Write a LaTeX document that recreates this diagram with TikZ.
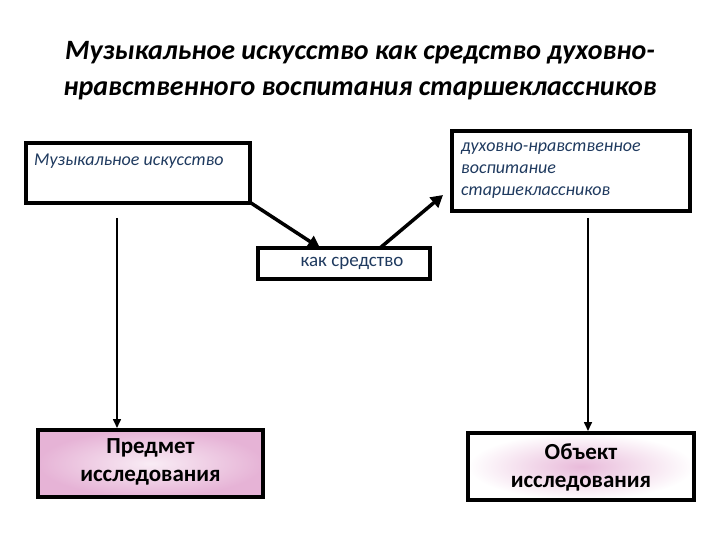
\documentclass[tikz,border=0pt]{standalone}
\usepackage{fontspec}
\setmainfont{Carlito}
\usetikzlibrary{arrows.meta}
\definecolor{navy}{HTML}{1F3A5F}
\definecolor{pinkbox}{HTML}{E6B3D6}
\tikzset{
  box/.style={draw=black, line width=4.5pt, inner sep=0pt},
  toptext/.style={text=navy, font=\itshape\fontsize{18}{22}\selectfont, align=left, anchor=north west, inner sep=0pt},
  bigtext/.style={font=\bfseries\fontsize{23}{28}\selectfont, align=center},
  thickarrow/.style={line width=3.5pt, -{Triangle[length=12pt,width=13pt]}},
  thinarrow/.style={line width=1.6pt, -{Triangle[length=9pt,width=8pt]}}
}
\begin{document}
\begin{tikzpicture}[x=1pt,y=-1pt]
\useasboundingbox (0,0) rectangle (720,540);
\node[font=\bfseries\itshape\fontsize{28}{36}\selectfont, align=center] (title) at (360,71)
  {Музыкальное искусство как средство духовно-\\нравственного воспитания старшеклассников};
% boxes
\draw[box] (26,143) rectangle (250,203);
\node[toptext] (t1) at (34,154) {Музыкальное искусство};
\draw[box] (452,131) rectangle (690,211);
\node[toptext] (t2) at (461,143) {духовно-нравственное\\воспитание\\старшеклассников};
\draw[box] (258,248) rectangle (430,279);
\node[text=navy, font=\fontsize{19}{22}\selectfont] (t3) at (352,263) {как средство};
\coordinate (b3a) at (320,248);
\coordinate (b3b) at (380,248);
\shade[inner color=pinkbox!25, outer color=pinkbox] (38,430) rectangle (263,497);
\draw[box] (38,430) rectangle (263,497);
\node[bigtext] (t4) at (150.5,462) {Предмет\\исследования};
\shade[inner color=pinkbox!90, outer color=white] (468,433) rectangle (694,500);
\draw[box] (468,433) rectangle (694,500);
\node[bigtext] (t5) at (581,467) {Объект\\исследования};
% arrows
\coordinate (a1s) at (251,203);
\coordinate (a2e) at (443,195);
\draw[thickarrow] (a1s) -- (b3a);
\draw[thickarrow] (b3b) -- (a2e);
\coordinate (l1) at (117,218);
\coordinate (l2) at (117,428);
\coordinate (r1) at (588,218);
\coordinate (r2) at (588,431);
\draw[thinarrow] (l1) -- (l2);
\draw[thinarrow] (r1) -- (r2);
\end{tikzpicture}
\end{document}
